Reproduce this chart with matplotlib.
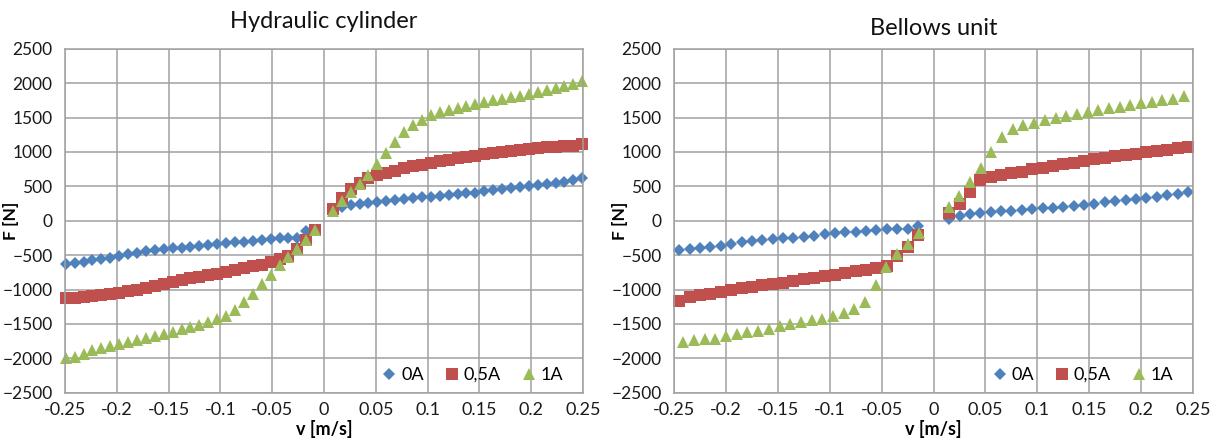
import matplotlib
matplotlib.use('Agg')
import matplotlib.pyplot as plt

plt.rcParams['font.family'] = ['Lato', 'DejaVu Sans']

# --- data ---
series_names = ['0A', '0,5A', '1A']
colors = ['#4F81BD', '#C0504D', '#9BBB59']

# Hydraulic cylinder: all three series share one velocity grid
hyd_v = [-0.2493, -0.2407, -0.2321, -0.2235, -0.2149, -0.2063, -0.1977, -0.1891, -0.1805, -0.1719,
         -0.1633, -0.1547, -0.1461, -0.1375, -0.1289, -0.1203, -0.1117, -0.1031, -0.0945, -0.0859,
         -0.0773, -0.0687, -0.0601, -0.0515, -0.0429, -0.0343, -0.0257, -0.0171, -0.0085,
         0.0085, 0.0171, 0.0257, 0.0343, 0.0429, 0.0515, 0.0601, 0.0687, 0.0773, 0.0859,
         0.0945, 0.1031, 0.1117, 0.1203, 0.1289, 0.1375, 0.1461, 0.1547, 0.1633, 0.1719,
         0.1805, 0.1891, 0.1977, 0.2063, 0.2149, 0.2235, 0.2321, 0.2407, 0.2493]
hyd_0a = [-631, -621, -597, -573, -558, -539, -515, -490, -466, -442, -427, -413, -403, -393, -379,
          -364, -354, -345, -330, -316, -306, -296, -282, -272, -257, -255, -250, -145, -140,
          150, 195, 232, 250, 262, 278, 292, 303, 315, 326, 338, 348, 360, 372, 385,
          397, 410, 425, 440, 455, 470, 485, 502, 520, 537, 553, 570, 590, 625]
hyd_05a = [-1130, -1122, -1107, -1094, -1075, -1062, -1045, -1020, -1000, -975, -945, -922, -890,
           -862, -838, -818, -795, -770, -745, -720, -690, -660, -640, -600, -560, -512, -414, -278, -141,
           165, 330, 460, 550, 620, 660, 695, 730, 765, 790, 815, 840, 862, 885, 905,
           925, 945, 965, 985, 1005, 1020, 1035, 1048, 1060, 1068, 1075, 1082, 1090, 1115]
hyd_1a = [-1995, -1985, -1934, -1885, -1846, -1821, -1787, -1758, -1738, -1709, -1675, -1650, -1611,
          -1577, -1543, -1514, -1479, -1431, -1382, -1299, -1187, -1064, -918, -796, -649, -527, -405, -273, -137,
          136, 282, 420, 530, 670, 825, 990, 1150, 1290, 1395, 1470, 1530, 1575, 1612, 1645,
          1672, 1698, 1722, 1748, 1772, 1795, 1820, 1845, 1865, 1900, 1930, 1955, 1990, 2035]

# Bellows unit: 0A and 0,5A on one grid, 1A on a slightly wider-spaced grid
bel_v = [-0.245, -0.235, -0.225, -0.215, -0.205, -0.195, -0.185, -0.175, -0.165, -0.155, -0.145, -0.135,
         -0.125, -0.115, -0.105, -0.095, -0.085, -0.075, -0.065, -0.055, -0.045, -0.035, -0.025, -0.015,
         0.015, 0.025, 0.035, 0.045, 0.055, 0.065, 0.075, 0.085, 0.095, 0.105, 0.115, 0.125,
         0.135, 0.145, 0.155, 0.165, 0.175, 0.185, 0.195, 0.205, 0.215, 0.225, 0.235, 0.245]
bel_0a = [-427, -413, -393, -379, -364, -340, -316, -296, -282, -267, -257, -248,
          -233, -223, -199, -184, -170, -160, -150, -136, -126, -125, -122, -70,
          30, 62, 95, 115, 132, 142, 148, 155, 165, 178, 190, 200,
          210, 225, 245, 265, 282, 298, 315, 335, 350, 372, 395, 415]
bel_05a = [-1160, -1105, -1080, -1058, -1035, -1012, -985, -960, -938, -918, -898, -874,
           -852, -830, -805, -782, -758, -735, -715, -690, -660, -510, -375, -205,
           110, 240, 420, 585, 630, 662, 688, 715, 745, 772, 795, 820,
           845, 868, 890, 912, 935, 955, 975, 995, 1015, 1035, 1055, 1075]
bel_v_1a = [-0.2411, -0.2308, -0.2205, -0.2102, -0.1999, -0.1896, -0.1793, -0.169, -0.1587, -0.1484,
            -0.1381, -0.1278, -0.1175, -0.1072, -0.0969, -0.0866, -0.0763, -0.066, -0.0557, -0.0454,
            -0.0351, -0.0248, -0.0145,
            0.0145, 0.0248, 0.0351, 0.0454, 0.0557, 0.066, 0.0763, 0.0866, 0.0969, 0.1072,
            0.1175, 0.1278, 0.1381, 0.1484, 0.1587, 0.169, 0.1793, 0.1896, 0.1999, 0.2102,
            0.2205, 0.2308, 0.2411]
bel_1a = [-1756, -1732, -1712, -1712, -1673, -1649, -1624, -1600, -1576, -1527, -1502, -1478,
          -1444, -1429, -1380, -1346, -1283, -1185, -927, -673, -488, -332, -185,
          195, 366, 561, 771, 1000, 1220, 1332, 1390, 1424, 1463, 1488, 1522,
          1551, 1585, 1610, 1634, 1655, 1680, 1705, 1730, 1750, 1775, 1815]

x_ticks = [-0.25, -0.2, -0.15, -0.1, -0.05, 0, 0.05, 0.1, 0.15, 0.2, 0.25]
x_tick_labels = ['-0.25', '-0.2', '-0.15', '-0.1', '-0.05', '0', '0.05', '0.1', '0.15', '0.2', '0.25']
y_ticks = [-2500, -2000, -1500, -1000, -500, 0, 500, 1000, 1500, 2000, 2500]

markers = ['D', 's', '^']
marker_sizes = [5.8, 8.0, 8.6]
grid_color = '#a0a0a0'


def draw_panel(ax, title, title_pad, datasets):
    for (xs, ys), name, col, mk, ms in zip(datasets, series_names, colors, markers, marker_sizes):
        ax.plot(xs, ys, linestyle='none', marker=mk, markersize=ms, color=col,
                markeredgewidth=0, label=name, clip_on=False)

    ax.set_xlim(-0.25, 0.25)
    ax.set_ylim(-2500, 2500)
    ax.set_xticks(x_ticks)
    ax.set_xticklabels(x_tick_labels)
    ax.set_yticks(y_ticks)
    ax.grid(True, color=grid_color, linewidth=1.1)
    ax.set_axisbelow(True)
    for sp in ax.spines.values():
        sp.set_color(grid_color)
        sp.set_linewidth(1.1)
    ax.tick_params(length=0, labelsize=13, colors='#1a1a1a')
    ax.tick_params(axis='y', pad=9, labelsize=12.5)
    ax.tick_params(axis='x', pad=7)

    ax.set_title(title, fontsize=17, pad=title_pad, color='#111111')
    ax.set_xlabel('v [m/s]', fontsize=13, fontweight='bold', labelpad=1)
    ax.set_ylabel('F [N]', fontsize=12.5, fontweight='bold')
    ax.yaxis.set_label_coords(-0.088, 0.5)

    ax.legend(loc='center right', bbox_to_anchor=(0.975, 0.052), ncol=3, frameon=False,
              fontsize=13, handlelength=0.7, handletextpad=0.3, columnspacing=1.2,
              borderaxespad=0)


fig = plt.figure(figsize=(12.11, 4.43), dpi=100)
ax1 = fig.add_axes([0.0537, 0.1135, 0.4277, 0.7765])
ax2 = fig.add_axes([0.5566, 0.1135, 0.4286, 0.7765])

draw_panel(ax1, 'Hydraulic cylinder', 15,
           [(hyd_v, hyd_0a), (hyd_v, hyd_05a), (hyd_v, hyd_1a)])
draw_panel(ax2, 'Bellows unit', 10,
           [(bel_v, bel_0a), (bel_v, bel_05a), (bel_v_1a, bel_1a)])

fig.savefig('out.png', dpi=100)
